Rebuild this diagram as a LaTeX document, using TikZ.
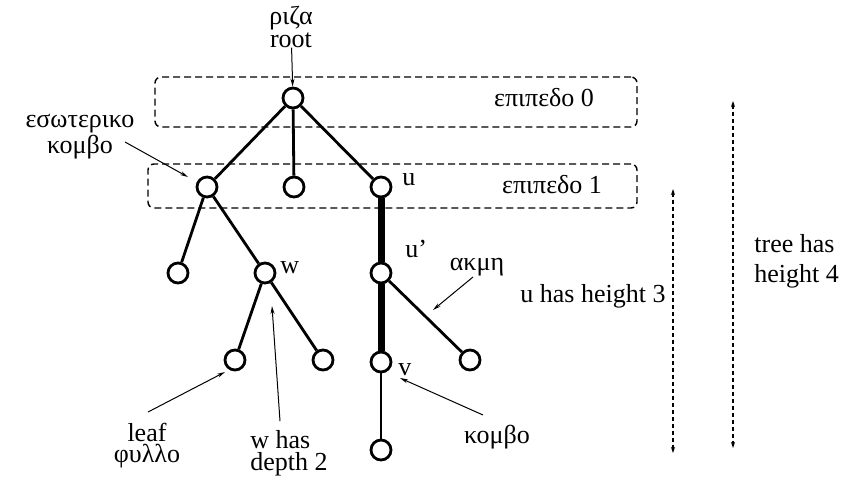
\documentclass[tikz,border=0pt]{standalone}
\usepackage{fontspec}
\setmainfont{Liberation Serif}
\usetikzlibrary{arrows.meta,positioning}

\begin{document}
\begin{tikzpicture}[x=0.5pt, y=-0.5pt,
                font=\fontsize{13}{15}\selectfont,
                vertex/.style={circle, draw, line width=1.4pt, minimum size=10pt, inner sep=0pt},
                edge/.style={draw, line width=1.4pt},
                heavy/.style={draw, line width=3.5pt},
                levelbox/.style={draw, dash pattern=on 3.5pt off 2pt, rounded corners=3pt,
                        line width=0.7pt, inner sep=0pt},
                pointer/.style={draw, line width=0.5pt, -{Stealth[length=4pt, width=2pt]}},
                span/.style={draw, line width=0.6pt, dash pattern=on 2pt off 1.5pt,
                        {Stealth[length=3pt, width=2pt]}-{Stealth[length=3pt, width=2pt]}},
                txt/.style={inner sep=0pt, anchor=base},
            ]
            \useasboundingbox (0,0) rectangle (858,479);

            % ── Level boxes ───────────────────────────────────────
            \node[levelbox, minimum width=241pt, minimum height=25pt] (lev0) at (396,102) {};
            \node[levelbox, minimum width=244.5pt, minimum height=22pt] (lev1) at (392.5,186) {};
            \node[txt] (lev0lbl) at (544,106) {επιπεδο 0};
            \node[txt] (lev1lbl) at (552,193) {επιπεδο 1};

            % ── Tree nodes ────────────────────────────────────────
            \node[vertex] (root) at (293,98) {};
            \node[vertex] (n1a) at (207,187) {};
            \node[vertex] (n1b) at (294,187) {};
            \node[vertex] (n1c) at (381,187) {};
            \node[vertex] (n2a) at (178,273) {};
            \node[vertex] (n2b) at (265,273) {};
            \node[vertex] (n2c) at (381,273) {};
            \node[vertex] (n3a) at (235,360) {};
            \node[vertex] (n3b) at (323,360) {};
            \node[vertex] (n3c) at (381,362) {};
            \node[vertex] (n3d) at (470,360) {};
            \node[vertex] (n4)  at (381,450) {};

            % ── Edges ─────────────────────────────────────────────
            \draw[edge] (root) -- (n1a);
            \draw[edge] (root) -- (n1b);
            \draw[edge] (root) -- (n1c);
            \draw[edge] (n1a) -- (n2a);
            \draw[edge] (n1a) -- (n2b);
            \draw[edge] (n2b) -- (n3a);
            \draw[edge] (n2b) -- (n3b);
            \draw[edge] (n2c) -- (n3d);
            \draw[edge] (n3c) -- (n4);
            % path of height 3 below u
            \draw[heavy] (n1c) -- (n2c);
            \draw[heavy] (n2c) -- (n3c);

            % ── Node names ────────────────────────────────────────
            \node[txt, anchor=base west] (ulbl)  at (402,185) {u};
            \node[txt, anchor=base west] (wlbl)  at (280,273) {w};
            \node[txt, anchor=base west] (u2lbl) at (405,257) {u'};
            \node[txt, anchor=base west] (vlbl)  at (398,375) {v};

            % ── Annotations (multi-line texts sit on their last baseline) ──
            \node[txt, align=center, font=\fontsize{13}{9}\selectfont] (rootlbl) at (291,47) {ριζα\\root};
            \draw[pointer] (rootlbl) -- (root);

            \node[txt, align=center, font=\fontsize{13}{9.5}\selectfont] (innerlbl) at (80,153) {εσωτερικο\\κομβο};
            \coordinate (innertail) at (125,142);
            \coordinate (innertip)  at (188,177);
            \draw[pointer] (innertail) -- (innertip);

            \node[txt] (edgelbl) at (477,270) {ακμη};
            \coordinate (edgetail) at (473,277);
            \coordinate (edgetip)  at (433,310);
            \draw[pointer] (edgetail) -- (edgetip);

            \node[txt, align=center, font=\fontsize{13}{10.5}\selectfont] (leaflbl) at (147,462) {leaf\\φυλλο};
            \coordinate (leaftail) at (148,412);
            \coordinate (leaftip)  at (225,372);
            \draw[pointer] (leaftail) -- (leaftip);

            \node[txt, anchor=base west, align=left, font=\fontsize{13}{11}\selectfont] (depthlbl) at (250,470) {w has\\depth 2};
            \coordinate (depthtail) at (280,421);
            \coordinate (depthtip)  at (272,306);
            \draw[pointer] (depthtail) -- (depthtip);

            \node[txt] (nodelbl) at (497,443) {κομβο};
            \coordinate (nodetail) at (483,415);
            \coordinate (nodetip)  at (400,378);
            \draw[pointer] (nodetail) -- (nodetip);

            % ── Heights ───────────────────────────────────────────
            \node[txt, anchor=base west] (heightlbl) at (520,302) {u has height 3};
            \coordinate (utop) at (673,189);
            \coordinate (ubot) at (673,453);
            \draw[span] (utop) -- (ubot);

            \node[txt, anchor=base west, align=left, font=\fontsize{13}{15}\selectfont] (treelbl) at (754,282) {tree has\\height 4};
            \coordinate (treetop) at (733,101);
            \coordinate (treebot) at (733,448);
            \draw[span] (treetop) -- (treebot);
        \end{tikzpicture}
\end{document}
